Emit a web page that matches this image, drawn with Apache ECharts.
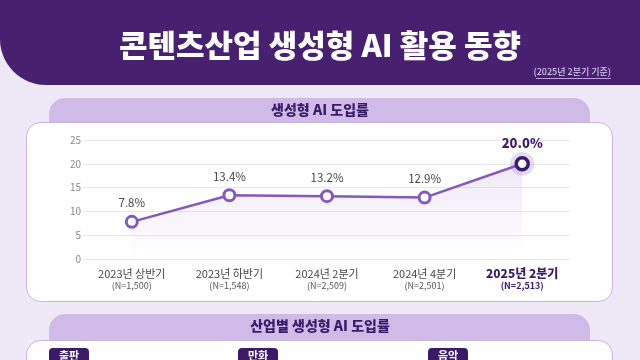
<!DOCTYPE html>
<html>
<head>
<meta charset="utf-8">
<script src="https://cdn.jsdelivr.net/npm/echarts@6/dist/echarts.min.js"></script>
<style>
html,body{margin:0;padding:0;background:#efe9f7;}
#c{width:640px;height:360px;}
</style>
</head>
<body>
<div id="c"></div>
<script>
const categories = ['2023년 상반기', '2023년 하반기', '2024년 2분기', '2024년 4분기', '2025년 2분기'];
const sampleSizes = ['(N=1,500)', '(N=1,548)', '(N=2,509)', '(N=2,501)', '(N=2,513)'];
const rates = [7.8, 13.4, 13.2, 12.9, 20.0];
const industries = ['출판', '만화', '음악'];

const FONT = 'Noto Sans CJK KR';
const DARK = '#3b1a68';
const LINE = '#8658bb';
const chart = echarts.init(document.getElementById('c'), null, {renderer: 'canvas'});

const lastIdx = rates.length - 1;

const chipX = [49, 238, 428];
const chips = [];
industries.forEach((name, i) => {
  chips.push({type: 'rect', z: -5, shape: {x: chipX[i], y: 348, width: 40, height: 20, r: 4}, style: {fill: DARK}});
  chips.push({type: 'text', z: -4, style: {x: chipX[i] + 20, y: 356, text: name, fill: '#ffffff', font: 'bold 11px "' + FONT + '"', align: 'center', verticalAlign: 'middle'}});
});

chart.setOption({
  backgroundColor: '#efe9f7',
  animation: false,
  graphic: [
    // header band
    {type: 'rect', z: -20, shape: {x: 0, y: -60, width: 700, height: 145, r: [0, 0, 0, 46]}, style: {fill: '#47206f'}},
    {type: 'text', z: -19, style: {x: 320, y: 45, text: '콘텐츠산업 생성형 AI 활용 동향', fill: '#ffffff', font: '900 31px "' + FONT + '"', align: 'center', verticalAlign: 'middle'}},
    {type: 'text', z: -19, style: {x: 611, y: 72, text: '(2025년 2분기 기준)', fill: '#d7c5f0', font: '500 9px "' + FONT + '"', align: 'right', verticalAlign: 'middle'}},
    {type: 'line', z: -19, shape: {x1: 536, y1: 78.5, x2: 611, y2: 78.5}, style: {stroke: '#b99be0', lineWidth: 1}},
    // tab 1
    {type: 'rect', z: -18, shape: {x: 49, y: 98, width: 541, height: 40, r: [16, 16, 0, 0]}, style: {fill: '#d0bbe8'}},
    {type: 'text', z: -17, style: {x: 320, y: 110, text: '생성형 AI 도입률', fill: DARK, font: '800 14px "' + FONT + '"', align: 'center', verticalAlign: 'middle'}},
    // panel 1
    {type: 'rect', z: -16, shape: {x: 26.5, y: 122.5, width: 586, height: 179, r: 14}, style: {fill: '#ffffff', stroke: '#c7b3e0', lineWidth: 1}},
    // tab 2
    {type: 'rect', z: -18, shape: {x: 49, y: 314, width: 541, height: 40, r: [16, 16, 0, 0]}, style: {fill: '#d0bbe8'}},
    {type: 'text', z: -17, style: {x: 320, y: 326, text: '산업별 생성형 AI 도입률', fill: DARK, font: '800 14px "' + FONT + '"', align: 'center', verticalAlign: 'middle'}},
    // panel 2
    {type: 'rect', z: -16, shape: {x: 26.5, y: 340.5, width: 586, height: 60, r: 14}, style: {fill: '#ffffff', stroke: '#c7b3e0', lineWidth: 1}},
    ...chips
  ],
  grid: {left: 83, right: 69, top: 140, bottom: 101, containLabel: false},
  xAxis: {
    type: 'category',
    data: categories,
    boundaryGap: true,
    axisLine: {show: false},
    axisTick: {show: false},
    axisLabel: {
      margin: 8,
      interval: 0,
      formatter: function (v, i) {
        if (i === lastIdx) return '{c|' + v + '}\n{d|' + sampleSizes[i] + '}';
        return '{a|' + v + '}\n{b|' + sampleSizes[i] + '}';
      },
      rich: {
        a: {fontFamily: FONT, fontSize: 11, color: '#454545', lineHeight: 13},
        b: {fontFamily: FONT, fontSize: 9, color: '#555555', lineHeight: 11},
        c: {fontFamily: FONT, fontSize: 12, fontWeight: 800, color: DARK, lineHeight: 13},
        d: {fontFamily: FONT, fontSize: 9, fontWeight: 700, color: DARK, lineHeight: 11}
      }
    }
  },
  yAxis: {
    type: 'value',
    min: 0, max: 25, interval: 5,
    axisLine: {show: false},
    axisTick: {show: false},
    axisLabel: {margin: 2, color: '#8a8a8a', fontSize: 10, fontFamily: FONT},
    splitLine: {lineStyle: {color: '#e9e6ee', width: 1}}
  },
  series: [
    {
      type: 'scatter',
      data: rates.map((v, i) => i === lastIdx ? v : null),
      symbolSize: 24,
      itemStyle: {color: 'rgba(170,135,215,0.38)'},
      z: 1,
      silent: true
    },
    {
      type: 'line',
      data: rates.map((v, i) => i === lastIdx ? {
        value: v,
        symbolSize: 12,
        itemStyle: {borderColor: DARK, borderWidth: 3.5},
        label: {color: DARK, fontWeight: 800, fontSize: 13}
      } : v),
      z: 3,
      symbol: 'circle',
      symbolSize: 11,
      showAllSymbol: true,
      lineStyle: {color: LINE, width: 2.5},
      itemStyle: {color: '#ffffff', borderColor: LINE, borderWidth: 3},
      areaStyle: {
        color: new echarts.graphic.LinearGradient(0, 0, 0, 1, [
          {offset: 0, color: 'rgba(160,120,215,0.24)'},
          {offset: 1, color: 'rgba(160,120,215,0)'}
        ])
      },
      label: {
        show: true,
        position: 'top',
        distance: 6,
        fontFamily: FONT,
        fontSize: 11.5,
        color: '#444444',
        formatter: p => p.value.toFixed(1) + '%'
      }
    }
  ]
});
</script>
</body>
</html>
